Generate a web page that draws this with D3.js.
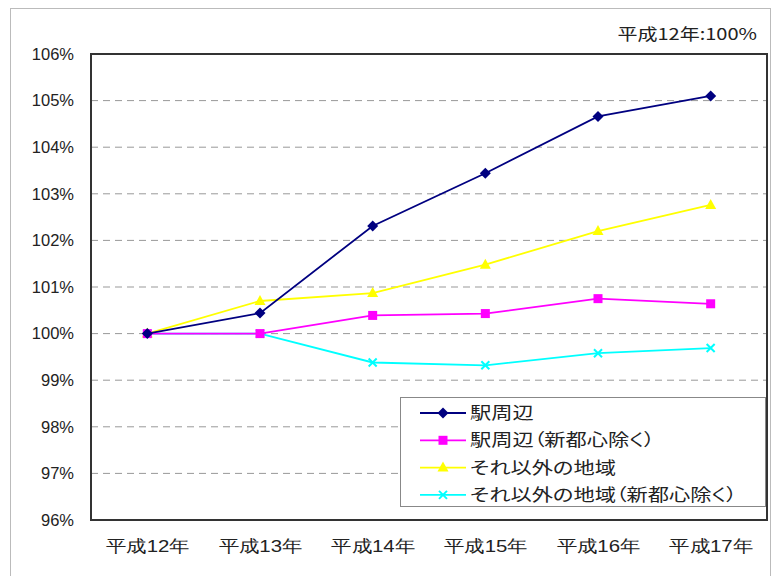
<!DOCTYPE html>
<html>
<head>
<meta charset="utf-8">
<script src="https://cdn.jsdelivr.net/npm/d3@7"></script>
<style>
  body { margin: 0; background: #fff; }
  svg { font-family: "Noto Sans CJK JP", "Liberation Sans", sans-serif; }
</style>
</head>
<body>
<svg id="chart" width="777" height="576"></svg>
<script>
// data
const years = ['平成12年', '平成13年', '平成14年', '平成15年', '平成16年', '平成17年'];
const seriesNames = ['駅周辺', '駅周辺（新都心除く）', 'それ以外の地域', 'それ以外の地域（新都心除く）'];
const ekiShuhen = [100, 100.44, 102.31, 103.44, 104.66, 105.1];
const ekiShuhenEx = [100, 100.0, 100.39, 100.43, 100.75, 100.64];
const sonota = [100, 100.7, 100.87, 101.48, 102.2, 102.76];
const sonotaEx = [100, 100.0, 99.38, 99.32, 99.58, 99.69];
const yTicks = [96, 97, 98, 99, 100, 101, 102, 103, 104, 105, 106];

const series = [
  { name: seriesNames[0], values: ekiShuhen, color: '#000080', marker: 'diamond' },
  { name: seriesNames[1], values: ekiShuhenEx, color: '#ff00ff', marker: 'square' },
  { name: seriesNames[2], values: sonota, color: '#ffff00', marker: 'triangle' },
  { name: seriesNames[3], values: sonotaEx, color: '#00ffff', marker: 'cross' }
];

const svg = d3.select('#chart');
const m = { left: 91, top: 54, right: 767, bottom: 520 };

// the original text is wide, so stretch it horizontally
function stretch(sel, k) {
  sel.each(function () {
    const w = this.getComputedTextLength();
    d3.select(this).attr('textLength', w * k).attr('lengthAdjust', 'spacingAndGlyphs');
  });
}

// outer frame
svg.append('rect')
  .attr('x', 10.5).attr('y', 8.5).attr('width', 760).attr('height', 580)
  .attr('fill', 'none').attr('stroke', '#bbb').attr('stroke-width', 1);

const x = d3.scalePoint().domain(years).range([m.left, m.right]).padding(0.5);
const y = d3.scaleLinear().domain([96, 106]).range([m.bottom, m.top]);

// grid
svg.append('g').selectAll('line')
  .data(yTicks.filter(t => t > 96 && t < 106))
  .enter().append('line')
  .attr('x1', m.left).attr('x2', m.right)
  .attr('y1', d => y(d)).attr('y2', d => y(d))
  .attr('stroke', '#999').attr('stroke-width', 1)
  .attr('stroke-dasharray', '7,5');

// plot frame
svg.append('rect')
  .attr('x', m.left).attr('y', m.top)
  .attr('width', m.right - m.left).attr('height', m.bottom - m.top)
  .attr('fill', 'none').attr('stroke', '#333').attr('stroke-width', 2);

// y axis labels
const yAxis = d3.axisLeft(y).tickValues(yTicks).tickSize(0).tickPadding(17)
  .tickFormat(d => d + '%');
svg.append('g').attr('transform', `translate(${m.left},0)`).call(yAxis)
  .call(g => g.select('.domain').remove())
  .selectAll('text')
  .attr('font-size', 16.5).attr('fill', '#222')
  .attr('font-family', '"Liberation Sans", sans-serif');

// x axis labels
const xAxis = d3.axisBottom(x).tickSize(0).tickPadding(20);
svg.append('g').attr('transform', `translate(0,${m.bottom})`).call(xAxis)
  .call(g => g.select('.domain').remove())
  .selectAll('text')
  .attr('font-size', 17).attr('fill', '#222')
  .call(stretch, 1.2);

// title note
svg.append('text')
  .attr('x', 757).attr('y', 40).attr('text-anchor', 'end')
  .attr('font-size', 16).attr('fill', '#222')
  .text('平成12年:100%')
  .call(stretch, 1.25);

function drawMarker(g, type, color) {
  if (type === 'diamond') {
    g.append('path').attr('d', 'M0,-5.5L5.5,0L0,5.5L-5.5,0Z').attr('fill', color);
  } else if (type === 'square') {
    g.append('rect').attr('x', -4.5).attr('y', -4.5).attr('width', 9).attr('height', 9).attr('fill', color);
  } else if (type === 'triangle') {
    g.append('path').attr('d', 'M0,-6L5.5,4L-5.5,4Z').attr('fill', color);
  } else {
    g.append('path').attr('d', 'M-4,-4L4,4M-4,4L4,-4')
      .attr('stroke', color).attr('stroke-width', 2).attr('fill', 'none');
  }
}

const line = d3.line().x((d, i) => x(years[i])).y(d => y(d));

// draw series (back to front so navy sits on top)
[...series].reverse().forEach(s => {
  svg.append('path').datum(s.values)
    .attr('d', line).attr('fill', 'none')
    .attr('stroke', s.color).attr('stroke-width', 1.8);
  s.values.forEach((v, i) => {
    const g = svg.append('g').attr('transform', `translate(${x(years[i])},${y(v)})`);
    drawMarker(g, s.marker, s.color);
  });
});

// legend
const lg = svg.append('g').attr('transform', 'translate(400,397)');
lg.append('rect').attr('x', 0.5).attr('y', 0.5).attr('width', 365).attr('height', 109)
  .attr('fill', '#fff').attr('stroke', '#888').attr('stroke-width', 1);
series.forEach((s, i) => {
  const ry = 16 + i * 27.3;
  lg.append('line').attr('x1', 20).attr('x2', 66).attr('y1', ry).attr('y2', ry)
    .attr('stroke', s.color).attr('stroke-width', 1.8);
  const mg = lg.append('g').attr('transform', `translate(43,${ry})`);
  drawMarker(mg, s.marker, s.color);
  lg.append('text').attr('x', 70).attr('y', ry + 6)
    .attr('font-size', 17).attr('fill', '#222')
    .style('font-feature-settings', '"palt"')
    .text(s.name)
    .call(stretch, 1.25);
});
</script>
</body>
</html>
